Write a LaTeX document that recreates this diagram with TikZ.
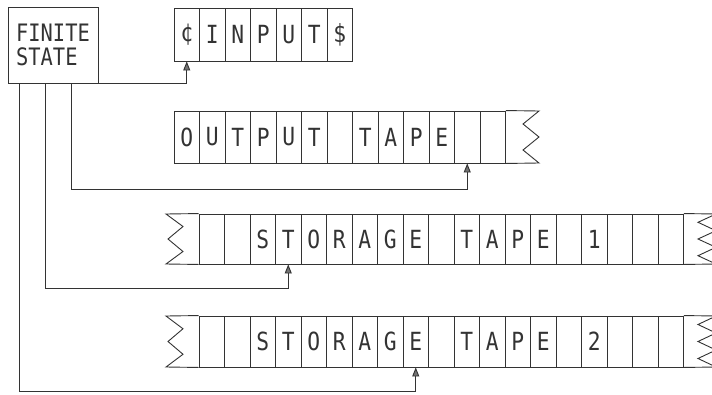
\documentclass[tikz,border=0pt]{standalone}
\usepackage{fontspec}
\usepackage{tikz}
\usetikzlibrary{arrows.meta}
\newfontfamily\tapefont[FakeStretch=0.85]{DejaVu Sans Mono}

\begin{document}
\begin{tikzpicture}[x=1pt,y=-1pt,line width=0.9pt,
  cell/.style={draw=black!80, text=black!80, minimum width=25.5pt, inner sep=0pt, font=\tapefont\fontsize{25}{25}\selectfont},
  feed/.style={draw=black!80, -{Triangle[length=9pt,width=7pt,fill=black!55]}},
  edge/.style={draw=black!80, line join=miter}]
\useasboundingbox[fill=white] (0,0) rectangle (712,394);
% Finite state control
\node[draw=black!80, text=black!80, minimum width=90pt, minimum height=76pt, inner sep=4pt, align=left,
  font=\tapefont\fontsize{24}{24}\selectfont] (fs) at (53,45) {FINITE\\STATE};
% Input tape
\foreach \l [count=\i from 0] in {¢,I,N,P,U,T,\$}
  \node[cell, minimum height=53pt] (in\i) at (186.75+25.5*\i, 34.5) {\l};
% Output tape
\foreach \l [count=\i from 0] in {O,U,T,P,U,T,{},T,A,P,E,{},{}}
  \node[cell, minimum height=52pt] (out\i) at (186.75+25.5*\i, 137) {\l};
\draw[edge] (out12.north east) -- (539,111) -- (523,124) -- (539,137) -- (523,150) -- (539,163) -- (out12.south east);
% Storage tape 1
\foreach \l [count=\i from 0] in {{},{},S,T,O,R,A,G,E,{},T,A,P,E,{},1,{},{},{}}
  \node[cell, minimum height=50pt] (stA\i) at (211.75+25.5*\i, 239) {\l};
\draw[edge] (stA0.north west) -- (166,214) -- (183,226.5) -- (168,239) -- (183,251.5) -- (166,264) -- (stA0.south west);
\draw[edge] (stA18.north east) -- (716,214) -- (698,222.3) -- (716,230.7) -- (698,239) -- (716,247.3) -- (698,255.7) -- (716,264) -- (stA18.south east);
% Storage tape 2
\foreach \l [count=\i from 0] in {{},{},S,T,O,R,A,G,E,{},T,A,P,E,{},2,{},{},{}}
  \node[cell, minimum height=51pt] (stB\i) at (211.75+25.5*\i, 341.5) {\l};
\draw[edge] (stB0.north west) -- (166,316) -- (183,328.75) -- (168,341.5) -- (183,354.25) -- (166,367) -- (stB0.south west);
\draw[edge] (stB18.north east) -- (716,316) -- (698,324.5) -- (716,333) -- (698,341.5) -- (716,350) -- (698,358.5) -- (716,367) -- (stB18.south east);
% Heads
\coordinate (fsA) at ([xshift=12pt]fs.south west);
\coordinate (fsB) at ([xshift=38pt]fs.south west);
\coordinate (fsC) at ([xshift=64pt]fs.south west);
\coordinate (outturn) at ([yshift=-26pt]out11.south);
\coordinate (stAturn) at ([yshift=-24pt]stA3.south);
\coordinate (stBturn) at ([yshift=-24pt]stB8.south);
\draw[feed] (fs.south east) -| (in0.south);
\draw[feed] (fsC) |- (outturn) -- (out11.south);
\draw[feed] (fsB) |- (stAturn) -- (stA3.south);
\draw[feed] (fsA) |- (stBturn) -- (stB8.south);
\end{tikzpicture}
\end{document}
